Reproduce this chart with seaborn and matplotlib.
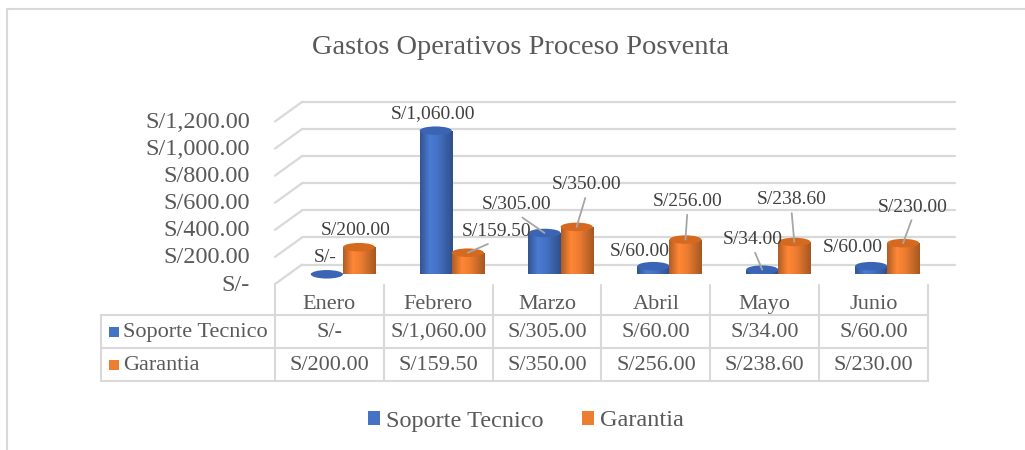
import numpy as np
import pandas as pd
import matplotlib
matplotlib.use("Agg")
import matplotlib.pyplot as plt
import seaborn as sns
from matplotlib import transforms
from matplotlib import font_manager as fm
from matplotlib.patches import Ellipse, Rectangle, Patch
from matplotlib.lines import Line2D
from matplotlib.colors import to_rgb

# ---- data -------------------------------------------------------------
months = ["Enero", "Febrero", "Marzo", "Abril", "Mayo", "Junio"]
series_names = ["Soporte Tecnico", "Garantia"]
soporte = [0, 1060, 305, 60, 34, 60]
garantia = [200, 159.5, 350, 256, 238.6, 230]
y_ticks = [0, 200, 400, 600, 800, 1000, 1200]
title = "Gastos Operativos Proceso Posventa"

values = {series_names[0]: soporte, series_names[1]: garantia}
df = pd.DataFrame({
    "Mes": months * 2,
    "Serie": [series_names[0]] * len(months) + [series_names[1]] * len(months),
    "Monto": soporte + garantia,
})

# ---- style ------------------------------------------------------------
body_colors = {"Soporte Tecnico": "#4472C4", "Garantia": "#ED7D31"}
top_colors = {"Soporte Tecnico": "#3B65B4", "Garantia": "#D5691F"}
GRID = "#D9D9D9"
TXT = "#595959"
LBL = "#404040"

# data-label placement (pixel offset of text centre from the top of the cylinder)
label_offsets = {
    "Soporte Tecnico": [(-2, 17), (-3, 17), (-28, 28), (-14, 15), (-9, 30), (-18, 19)],
    "Garantia": [(-3, 17), (29, 21), (10, 42), (2, 38), (-3, 42), (10, 36)],
}
leaders = {
    "Soporte Tecnico": [False, False, True, False, True, False],
    "Garantia": [False, True, True, True, True, True],
}


def money(v):
    return "S/-" if v == 0 else f"S/{v:,.2f}"


def pick_serif():
    names = {f.name: f.fname for f in fm.fontManager.ttflist}
    for cand in ("Liberation Serif", "Times New Roman", "Nimbus Roman", "DejaVu Serif"):
        if cand in names:
            return cand, names[cand]
    for n, p in names.items():
        if "Serif" in n or "Times" in n:
            return n, p
    return "DejaVu Serif", None


SERIF, SERIF_FILE = pick_serif()

sns.set_theme(style="white")
plt.rcParams["font.family"] = [SERIF, "DejaVu Serif"]
plt.rcParams["font.serif"] = [SERIF, "DejaVu Serif"]

W, H, DPI = 1025, 450, 100
fig = plt.figure(figsize=(W / DPI, H / DPI), dpi=DPI)
fig.patch.set_facecolor("white")


def font(size):
    if SERIF_FILE:
        return fm.FontProperties(fname=SERIF_FILE, size=size)
    return fm.FontProperties(family=SERIF, size=size)


def fx(px):
    return px / W


def fy(py):
    return 1 - py / H


# axes = the middle depth plane where the cylinders stand
PLANE_L, PLANE_W = 288.5, 653.0
BASE_Y, SPAN_Y = 274.3, 162.6
ax = fig.add_axes([fx(PLANE_L), fy(BASE_Y), PLANE_W / W, SPAN_Y / H])

sns.barplot(data=df, x="Mes", y="Monto", hue="Serie", order=months,
            hue_order=series_names, palette=body_colors, width=0.59,
            saturation=1, errorbar=None, legend=False, ax=ax, zorder=3)

XLIM, YLIM = (-0.5, len(months) - 0.5), (0, y_ticks[-1])
ax.set_xlim(*XLIM)
ax.set_ylim(*YLIM)
ax.set_axis_off()

# depth offsets (inches) from the middle plane to the back wall / front edge
DX, DY = 13.5 / DPI, 9.75 / DPI
back_tr = ax.transData + transforms.ScaledTranslation(DX, DY, fig.dpi_scale_trans)
front_tr = ax.transData + transforms.ScaledTranslation(-DX, -DY, fig.dpi_scale_trans)


def to_px(tr, x, y):
    """display point -> (x from left, y from top) in pixels"""
    px, py = tr.transform((x, y))
    return px, H - py


def fig_line(p1, p2, **kw):
    fig.add_artist(Line2D([fx(p1[0]), fx(p2[0])], [fy(p1[1]), fy(p2[1])],
                          transform=fig.transFigure, **kw))


# back wall gridlines, side wall diagonals and value labels
for v in y_ticks:
    ax.plot(XLIM, [v, v], color=GRID, lw=1.6, transform=back_tr,
            clip_on=False, zorder=1)
    fig_line(to_px(front_tr, XLIM[0], v), to_px(back_tr, XLIM[0], v),
             color=GRID, lw=1.6, zorder=1)
    fx_, fy_ = to_px(front_tr, XLIM[0], v)
    fig.text(fx(fx_ - 25), fy(fy_ + 1), money(v), ha="right", va="center",
             fontproperties=font(17.5), color=TXT)

# ---- cylinders --------------------------------------------------------
px_per_unit = SPAN_Y / (YLIM[1] - YLIM[0])
ell_h = 8.5 / px_per_unit
t = np.linspace(0, 1, 64)
shade = np.interp(t, [0, 0.3, 0.55, 1.0], [0.74, 1.08, 1.0, 0.70])

for name, container in zip(series_names, ax.containers):
    base = np.array(to_rgb(body_colors[name]))
    grad = np.clip(shade[:, None] * base[None, :], 0, 1)[None, :, :]
    for bar in container:
        x0, w, h = bar.get_x(), bar.get_width(), bar.get_height()
        cx = x0 + w / 2
        bar.set_facecolor("none")
        bar.set_edgecolor("none")
        bottom = Ellipse((cx, 0), w, ell_h, facecolor="none", edgecolor="none")
        ax.add_patch(bottom)
        for clip in (bar, bottom):
            im = ax.imshow(grad, extent=(x0, x0 + w, -ell_h / 2, max(h, 0.01)),
                           aspect="auto", origin="lower", zorder=3,
                           interpolation="bilinear")
            im.set_clip_path(clip)
        ax.add_patch(Ellipse((cx, h), w, ell_h, facecolor=top_colors[name],
                             edgecolor="none", zorder=4, clip_on=False))

# ---- data labels ------------------------------------------------------
for name, container in zip(series_names, ax.containers):
    for i, bar in enumerate(container):
        v = values[name][i]
        cx = bar.get_x() + bar.get_width() / 2
        dx, dy = label_offsets[name][i]
        kw = {}
        if leaders[name][i]:
            kw["arrowprops"] = dict(arrowstyle="-", color="#A6A6A6", lw=1.3,
                                    shrinkA=1, shrinkB=0, relpos=(0.5, 0))
        ax.annotate(money(v), xy=(cx, v), xytext=(dx, dy),
                    textcoords="offset pixels", ha="center", va="center",
                    fontproperties=font(14), color=LBL, zorder=6,
                    annotation_clip=False, **kw)

ax.set_xlim(*XLIM)
ax.set_ylim(*YLIM)

# ---- data table -------------------------------------------------------
TBL_LEFT = 101
ROW_TOP, ROW_MID, ROW_BOT = 315, 347.5, 380.5
floor_y = to_px(front_tr, 0, 0)[1]
col_edges = [to_px(front_tr, k - 0.5, 0)[0] for k in range(len(months) + 1)]

for xe in col_edges:
    fig_line((xe, floor_y + 1), (xe, ROW_BOT), color=GRID, lw=1.5)
fig_line((TBL_LEFT, ROW_TOP), (TBL_LEFT, ROW_BOT), color=GRID, lw=1.5)
for yy in (ROW_TOP, ROW_MID, ROW_BOT):
    fig_line((TBL_LEFT, yy), (col_edges[-1], yy), color=GRID, lw=1.5)

header_y = (floor_y + ROW_TOP) / 2 + 5
row_y = [(ROW_TOP + ROW_MID) / 2 + 1, (ROW_MID + ROW_BOT) / 2 + 1]
for i, m in enumerate(months):
    cxp = (col_edges[i] + col_edges[i + 1]) / 2
    fig.text(fx(cxp), fy(header_y), m, ha="center", va="center",
             fontproperties=font(16), color=TXT)
    for r, name in enumerate(series_names):
        fig.text(fx(cxp), fy(row_y[r]), money(values[name][i]), ha="center",
                 va="center", fontproperties=font(16), color=TXT)

for r, name in enumerate(series_names):
    fig.add_artist(Rectangle((fx(109), fy(row_y[r] + 5)), 10 / W, 10 / H,
                             transform=fig.transFigure,
                             facecolor=body_colors[name], edgecolor="none"))
    fig.text(fx(123), fy(row_y[r]), name, ha="left", va="center",
             fontproperties=font(16), color=TXT)

# ---- title, legend, frame ----------------------------------------------
fig.text(fx(521), fy(48), title, ha="center", va="center",
         fontproperties=font(20.5), color=TXT)

handles = [Patch(facecolor=body_colors[n], edgecolor="none") for n in series_names]
fig.legend(handles, series_names, loc="center", bbox_to_anchor=(fx(526), fy(421)),
           ncol=2, frameon=False, prop=font(17.5), labelcolor=TXT,
           handlelength=0.5, handleheight=0.5, handletextpad=0.25,
           columnspacing=1.6)

fig.add_artist(Rectangle((fx(7), -0.1), 1.2, fy(9) + 0.1, transform=fig.transFigure,
                         fill=False, edgecolor=GRID, lw=1.5))

fig.savefig("out.png", dpi=DPI, facecolor="white")
